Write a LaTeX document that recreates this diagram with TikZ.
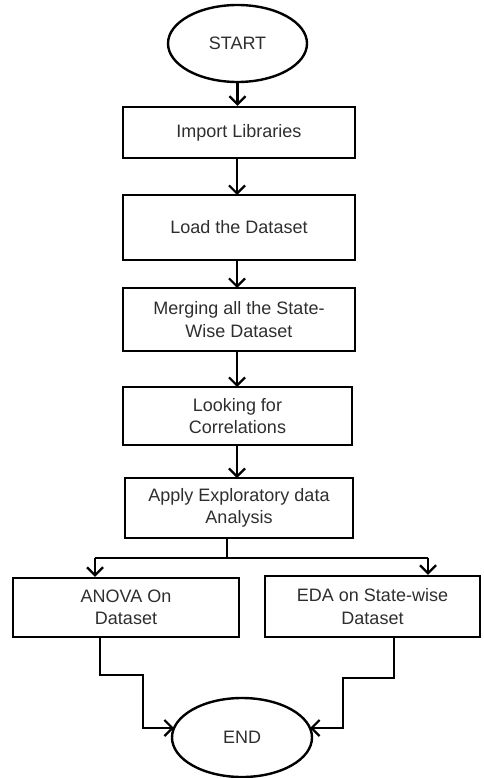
\documentclass[tikz,border=0pt]{standalone}
\usepackage{fontspec}
\setmainfont{Liberation Sans}
\usetikzlibrary{arrows.meta,shapes.geometric}
\definecolor{txt}{HTML}{2E2E2E}
\begin{document}
\begin{tikzpicture}[x=1pt,y=-1pt,
  line width=2.4pt,
  box/.style={draw, rectangle, align=center, inner sep=2pt, text=txt, font=\fontsize{18}{22.5}\selectfont},
  oval/.style={draw, ellipse, text=txt, font=\fontsize{18}{22}\selectfont},
  arr/.style={-{Straight Barb[length=8pt,width=16pt,line width=2.2pt]}}]
\useasboundingbox (0,0) rectangle (483,778);
\node[oval, minimum width=139pt, minimum height=77pt] (start) at (237.5,43.5) {START};
\node[box, minimum width=232pt, minimum height=51pt] (imp) at (239,132.5) {Import Libraries};
\node[box, minimum width=232pt, minimum height=65pt] (load) at (239,227.5) {Load the Dataset};
\node[box, minimum width=232pt, minimum height=63pt] (merge) at (239,319.5) {Merging all the State-\\Wise Dataset};
\node[box, minimum width=229pt, minimum height=58pt] (look) at (237.5,416) {Looking for\\Correlations};
\node[box, minimum width=228pt, minimum height=60pt] (apply) at (239,508) {Apply Exploratory data\\Analysis};
\node[box, minimum width=226pt, minimum height=59pt] (anova) at (126,607.5) {ANOVA On\\Dataset};
\node[box, minimum width=215pt, minimum height=61pt] (eda) at (372.5,606.5) {EDA on State-wise\\Dataset};
\node[oval, minimum width=140pt, minimum height=79pt] (fin) at (242,737.5) {END};

\draw[arr] (start.south) -- (start.south |- imp.north);
\draw[arr] (237,158) -- (237,195);
\draw[arr] (237,260) -- (237,288);
\draw[arr] (237,351) -- (237,387);
\draw[arr] (237,445) -- (237,478);

\coordinate (split) at (227,558);
\coordinate (bl) at (95,558);
\coordinate (br) at (428,558);
\draw (split |- apply.south) -- (split);
\draw (bl) -- (br);
\draw[arr] (bl) -- (bl |- anova.north);
\draw[arr] (br) -- (br |- eda.north);

\coordinate (l1) at (100,675);
\coordinate (l2) at (143,675);
\coordinate (eL) at (174,728);
\coordinate (r1) at (394,678);
\coordinate (r2) at (343,678);
\coordinate (eR) at (310,728);
\draw[arr] (l1 |- anova.south) -- (l1) -- (l2) |- (eL);
\draw[arr] (r1 |- eda.south) -- (r1) -- (r2) |- (eR);
\end{tikzpicture}
\end{document}
